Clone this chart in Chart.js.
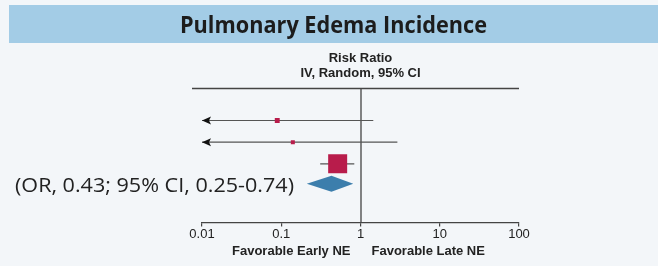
<!DOCTYPE html>
<html>
<head>
  <title>Pulmonary Edema Incidence</title>
  <script src="https://cdn.jsdelivr.net/npm/chart.js@4"></script>
  <style>
    html, body { margin: 0; padding: 0; background: #f3f6f9; }
    #wrap { width: 658px; height: 266px; position: relative; }
  </style>
</head>
<body>
<div id="wrap"><canvas id="forest"></canvas></div>

<script>
  // study rows (no labels shown in the picture)
  const rowY = [1.5, 2.5, 3.5];
  const estimate = [0.089, 0.14, 0.515];
  const lower = [0.006, 0.007, 0.31];   // below 0.01 -> drawn as arrow
  const upper = [1.45, 2.92, 0.835];
  const weights = [6, 4, 90];

  // pooled estimate (diamond)
  const pooled = [0.21, 0.43, 0.81];    // lower, estimate, upper
  const pooledY = 4.42;

  const tickValues = [0.01, 0.1, 1, 10, 100];
  const titleText = 'Pulmonary Edema Incidence';
  const headerLines = ['Risk Ratio', 'IV, Random, 95% CI'];
  const favourLabels = ['Favorable Early NE', 'Favorable Late NE'];
  const noteText = '(OR, 0.43; 95% CI, 0.25-0.74)';

  const squareColor = '#b81c4b';
  const diamondColor = '#3c7eac';
  const lineColor = '#444';

  function fitText(ctx, text, x, y, width) {
    const w = ctx.measureText(text).width;
    ctx.save();
    ctx.translate(x, y);
    ctx.scale(width / w, 1);
    ctx.fillText(text, 0, 0);
    ctx.restore();
  }

  const forestPlugin = {
    id: 'forest',
    beforeDraw(chart) {
      const ctx = chart.ctx;
      ctx.save();
      ctx.fillStyle = '#a3cce6';
      ctx.fillRect(9, 5, 649, 38);
      ctx.fillStyle = '#1c1c1c';
      ctx.font = 'bold 24px "Open Sans"';
      ctx.textBaseline = 'alphabetic';
      ctx.textAlign = 'left';
      fitText(ctx, titleText, 180, 33, 307);
      ctx.restore();
    },
    beforeDatasetsDraw(chart) {
      const ctx = chart.ctx;
      const xs = chart.scales.x, ys = chart.scales.y;
      const area = chart.chartArea;
      ctx.save();

      // header
      ctx.fillStyle = '#222';
      ctx.font = 'bold 13px "Liberation Sans"';
      ctx.textAlign = 'center';
      ctx.textBaseline = 'middle';
      const cx = xs.getPixelForValue(1);
      ctx.fillText(headerLines[0], cx, 58);
      ctx.fillText(headerLines[1], cx, 73);

      // top rule and line of no effect
      ctx.strokeStyle = lineColor;
      ctx.lineWidth = 1.3;
      ctx.beginPath();
      ctx.moveTo(area.left - 10, 88.5);
      ctx.lineTo(area.right, 88.5);
      ctx.moveTo(cx + 0.5, 88);
      ctx.lineTo(cx + 0.5, area.bottom);
      ctx.stroke();

      // confidence intervals
      ctx.strokeStyle = '#555';
      ctx.fillStyle = '#111';
      ctx.lineWidth = 1.2;
      rowY.forEach((r, i) => {
        const y = ys.getPixelForValue(r);
        const clipped = lower[i] < xs.min;
        const x0 = xs.getPixelForValue(Math.max(lower[i], xs.min));
        const x1 = xs.getPixelForValue(upper[i]);
        ctx.beginPath();
        ctx.moveTo(x0, y);
        ctx.lineTo(x1, y);
        ctx.stroke();
        if (clipped) {
          ctx.beginPath();
          ctx.moveTo(x0, y);
          ctx.lineTo(x0 + 9, y - 4);
          ctx.lineTo(x0 + 7, y);
          ctx.lineTo(x0 + 9, y + 4);
          ctx.closePath();
          ctx.fill();
        }
      });

      // pooled diamond
      const dy = ys.getPixelForValue(pooledY);
      const h = 8;
      ctx.fillStyle = diamondColor;
      ctx.beginPath();
      ctx.moveTo(xs.getPixelForValue(pooled[0]), dy);
      ctx.lineTo(xs.getPixelForValue(pooled[1]), dy - h);
      ctx.lineTo(xs.getPixelForValue(pooled[2]), dy);
      ctx.lineTo(xs.getPixelForValue(pooled[1]), dy + h);
      ctx.closePath();
      ctx.fill();

      // note text
      ctx.fillStyle = '#222';
      ctx.font = '20px "Open Sans"';
      ctx.textAlign = 'left';
      ctx.textBaseline = 'alphabetic';
      fitText(ctx, noteText, 15, 192, 279);

      // favour labels
      ctx.font = 'bold 13px "Liberation Sans"';
      ctx.textBaseline = 'middle';
      ctx.textAlign = 'right';
      ctx.fillText(favourLabels[0], cx - 10, 251);
      ctx.textAlign = 'left';
      ctx.fillText(favourLabels[1], cx + 11, 251);
      ctx.restore();
    }
  };

  const maxW = Math.max(...weights);

  new Chart(document.getElementById('forest'), {
    type: 'scatter',
    data: {
      datasets: [{
        data: estimate.map((e, i) => ({ x: e, y: rowY[i] })),
        pointStyle: 'rect',
        pointRadius: weights.map(w => 19 * Math.sqrt(w / maxW) / Math.SQRT2),
        backgroundColor: squareColor,
        borderWidth: 0
      }]
    },
    options: {
      responsive: true,
      maintainAspectRatio: false,
      animation: false,
      events: [],
      layout: { padding: { left: 202, right: 139, top: 88, bottom: 24 } },
      plugins: { legend: { display: false }, tooltip: { enabled: false } },
      scales: {
        x: {
          type: 'logarithmic',
          min: 0.01,
          max: 100,
          afterBuildTicks: scale => { scale.ticks = tickValues.map(v => ({ value: v })); },
          ticks: {
            callback: v => String(v),
            color: '#222',
            font: { family: 'Liberation Sans', size: 13 },
            padding: 0,
            maxRotation: 0,
            autoSkip: false
          },
          grid: { drawOnChartArea: false, drawTicks: true, tickLength: 4, color: lineColor, lineWidth: 1.2 },
          border: { display: true, color: lineColor, width: 1.3 }
        },
        y: { type: 'linear', min: 0, max: 6.2, reverse: true, display: false }
      }
    },
    plugins: [forestPlugin]
  });
</script>
</body>
</html>
